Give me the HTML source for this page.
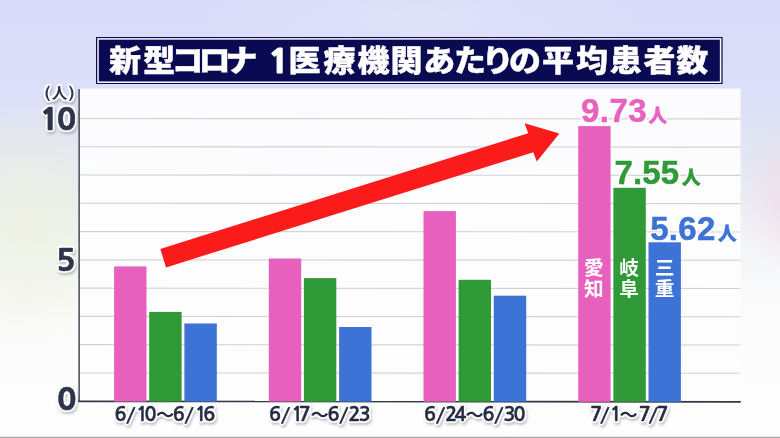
<!DOCTYPE html>
<html lang="ja">
<head>
<meta charset="utf-8">
<title>新型コロナ 1医療機関あたりの平均患者数</title>
<style>
html,body{margin:0;padding:0;width:780px;height:438px;overflow:hidden;background:#fdfdfb;}
svg{display:block;position:absolute;left:0;top:0;}
text{font-family:"Liberation Sans","Noto Sans CJK JP",sans-serif;}
.ttl text{font-family:"Noto Sans CJK JP","Liberation Sans",sans-serif;font-weight:900;font-size:32px;fill:#fff;stroke:#fff;stroke-width:0.4px;stroke-linejoin:round;}
.ttl .one{font-family:"NanumGothic","Liberation Sans",sans-serif;font-weight:800;font-size:36px;stroke-width:1.1px;stroke-linejoin:miter;}
.ax{font-family:"NanumGothic","Liberation Sans",sans-serif;font-weight:800;font-size:29.5px;fill:#2e3449;stroke:#2e3449;stroke-width:0.5px;}
.unit{font-family:"Noto Sans CJK JP","Liberation Sans",sans-serif;font-weight:700;font-size:15.5px;fill:#2e3449;text-anchor:middle;}
.par{font-family:"NanumGothic","Liberation Sans",sans-serif;font-weight:800;font-size:15.5px;}
.xl{font-family:"NanumGothic","Liberation Sans","Noto Sans CJK JP",sans-serif;font-size:19px;font-weight:700;fill:#262c42;stroke:#262c42;stroke-width:0.4px;}
.wv{font-family:"Noto Sans CJK JP",sans-serif;font-weight:700;font-size:17.5px;stroke:none;}
.sl{font-size:20px;font-weight:400;stroke-width:0.55px;}
.val{font-weight:700;font-size:33px;}
.nin{font-family:"Noto Sans CJK JP","Liberation Sans",sans-serif;font-weight:900;font-size:18.7px;letter-spacing:0;}
.bl{font-family:"Noto Sans CJK JP","Liberation Sans",sans-serif;font-weight:700;font-size:19.7px;fill:#fff;text-anchor:middle;}
</style>
</head>
<body>
<svg width="780" height="438" viewBox="0 0 780 438">
<defs>
  <linearGradient id="bgv" x1="0" y1="0" x2="0" y2="1">
    <stop offset="0" stop-color="#d8dbf8"/>
    <stop offset="0.2" stop-color="#dcdff8"/>
    <stop offset="0.32" stop-color="#e1e4f3"/>
    <stop offset="0.45" stop-color="#eaecf2"/>
    <stop offset="0.58" stop-color="#f5f6f8"/>
    <stop offset="0.72" stop-color="#fbfbfb"/>
    <stop offset="1" stop-color="#fefefe"/>
  </linearGradient>
  <radialGradient id="bgg" gradientUnits="userSpaceOnUse" cx="25" cy="225" r="125" gradientTransform="translate(25 225) scale(0.9 1) translate(-25 -225)">
    <stop offset="0" stop-color="#edf1de" stop-opacity="0.8"/>
    <stop offset="0.5" stop-color="#edf1de" stop-opacity="0.45"/>
    <stop offset="1" stop-color="#edf1de" stop-opacity="0"/>
  </radialGradient>
  <radialGradient id="bgp" gradientUnits="userSpaceOnUse" cx="800" cy="200" r="75" gradientTransform="translate(800 200) scale(0.8 1) translate(-800 -200)">
    <stop offset="0" stop-color="#f5d8e8" stop-opacity="0.8"/>
    <stop offset="0.5" stop-color="#f5d8e8" stop-opacity="0.38"/>
    <stop offset="1" stop-color="#f5d8e8" stop-opacity="0"/>
  </radialGradient>
  <radialGradient id="bgh" gradientUnits="userSpaceOnUse" cx="420" cy="15" r="230" gradientTransform="translate(420 15) scale(1 0.3) translate(-420 -15)">
    <stop offset="0" stop-color="#ffffff" stop-opacity="0.18"/>
    <stop offset="1" stop-color="#ffffff" stop-opacity="0"/>
  </radialGradient>
  <filter id="ol" x="-15%" y="-25%" width="130%" height="160%" color-interpolation-filters="sRGB">
    <feMorphology in="SourceAlpha" operator="dilate" radius="1" result="d"/>
    <feGaussianBlur in="d" stdDeviation="0.8" result="db"/>
    <feComponentTransfer in="db" result="dt"><feFuncA type="linear" slope="2.6" intercept="-0.1"/></feComponentTransfer>
    <feFlood flood-color="#ffffff" result="w"/>
    <feComposite in="w" in2="dt" operator="in" result="white"/>
    <feGaussianBlur in="d" stdDeviation="1.8" result="sb"/>
    <feOffset in="sb" dx="0.8" dy="1.6" result="so"/>
    <feFlood flood-color="#30323c" flood-opacity="0.45" result="sc"/>
    <feComposite in="sc" in2="so" operator="in" result="shadow"/>
    <feMerge><feMergeNode in="shadow"/><feMergeNode in="white"/><feMergeNode in="SourceGraphic"/></feMerge>
  </filter>
  <filter id="ol2" x="-10%" y="-25%" width="120%" height="150%" color-interpolation-filters="sRGB">
    <feMorphology in="SourceAlpha" operator="dilate" radius="1" result="d"/>
    <feGaussianBlur in="d" stdDeviation="0.7" result="db"/>
    <feComponentTransfer in="db" result="dt"><feFuncA type="linear" slope="2" intercept="-0.1"/></feComponentTransfer>
    <feFlood flood-color="#ffffff" result="w"/>
    <feComposite in="w" in2="dt" operator="in" result="white"/>
    <feMerge><feMergeNode in="white"/><feMergeNode in="SourceGraphic"/></feMerge>
  </filter>
</defs>
<!-- background -->
<rect x="0" y="0" width="780" height="438" fill="url(#bgv)"/>
<rect x="0" y="0" width="780" height="438" fill="url(#bgg)"/>
<rect x="0" y="0" width="780" height="438" fill="url(#bgp)"/>
<rect x="0" y="0" width="780" height="120" fill="url(#bgh)"/>
<rect x="0" y="436.4" width="780" height="1.6" fill="#a4a4a4" fill-opacity="0.35"/>
<rect x="0" y="437" width="780" height="1" fill="#a8a8a8"/>

<!-- chart panel -->
<rect x="79" y="88.6" width="661.6" height="313" fill="#fdfdfe" fill-opacity="0.96"/>
<g stroke="#d1d1d4" stroke-width="1.1">
  <line x1="79" x2="740.5" y1="372.93" y2="373.28"/>
  <line x1="79" x2="740.5" y1="344.66" y2="345.01"/>
  <line x1="79" x2="740.5" y1="316.39" y2="316.74"/>
  <line x1="79" x2="740.5" y1="288.12" y2="288.47"/>
  <line x1="79" x2="740.5" y1="259.85" y2="260.20"/>
  <line x1="79" x2="740.5" y1="231.58" y2="231.93"/>
  <line x1="79" x2="740.5" y1="203.31" y2="203.66"/>
  <line x1="79" x2="740.5" y1="175.04" y2="175.39"/>
  <line x1="79" x2="740.5" y1="146.77" y2="147.12"/>
  <line x1="79" x2="740.5" y1="118.50" y2="118.85"/>
</g>

<!-- axes -->
<rect x="78.3" y="89" width="1.7" height="313" fill="#5a5e68"/>
<polygon points="78.3,400.5 740.8,401 740.8,402.7 78.3,402.2" fill="#343844"/>

<!-- bars -->
<g id="bars">
  <rect x="114.1" y="266.4" width="32.4" height="135.2" fill="#e760bd"/>
  <rect x="149.2" y="311.9" width="32.4" height="89.7" fill="#2f9a37"/>
  <rect x="184.4" y="323.5" width="32.4" height="78.1" fill="#3d73d6"/>
  <rect x="268.8" y="258.5" width="32.4" height="143.1" fill="#e760bd"/>
  <rect x="303.9" y="278.1" width="32.4" height="123.6" fill="#2f9a37"/>
  <rect x="339.1" y="327.0" width="32.4" height="74.7" fill="#3d73d6"/>
  <rect x="423.5" y="211.1" width="32.4" height="190.6" fill="#e760bd"/>
  <rect x="458.6" y="279.8" width="32.4" height="121.9" fill="#2f9a37"/>
  <rect x="493.8" y="295.7" width="32.4" height="106.0" fill="#3d73d6"/>
  <rect x="578.2" y="126.1" width="32.4" height="275.7" fill="#e760bd"/>
  <rect x="613.4" y="187.8" width="32.4" height="214.0" fill="#2f9a37"/>
  <rect x="648.5" y="242.3" width="32.4" height="159.5" fill="#3d73d6"/>
</g>

<!-- arrow -->
<polygon points="160.3,248.9 528.2,133.2 524.6,123.3 559.4,133.6 536.8,161.6 533.3,152.3 166,267.4" fill="#fb1b1b"/>

<!-- title banner -->
<rect x="96" y="37" width="626.6" height="47" fill="#0a0a52"/>
<rect x="98" y="38.9" width="622.6" height="43.3" fill="none" stroke="#fff" stroke-width="1.5"/>
<g class="ttl" transform="translate(0 4.85) scale(1 0.92)">
<text y="72" x="109 143.2 171.6 198.4 225.4 258 268.1 288.6 323.6 357.5 390.5 423.3 454.1 481.8 509.1 541.9 576.1 609.8 643.4 676.3">新型コロナ <tspan class="one" dy="2.3">1</tspan><tspan dy="-2.3">医</tspan>療機関あたりの平均患者数</text>
</g>

<!-- y axis labels -->
<g filter="url(#ol)">
<text class="unit" y="99.1" x="47.3 59.6 71.5"><tspan class="par" dy="-0.6">(</tspan><tspan dy="0.6">人</tspan><tspan class="par" dy="-0.6">)</tspan></text>
<text class="ax" transform="translate(76 130.1) scale(1.09 1)" x="-33.2 -18.0" y="0">10</text>
<text class="ax" transform="translate(76 270.6) scale(1.09 1)" x="-18.4" y="0">5</text>
<text class="ax" transform="translate(76 410.3) scale(1.09 1)" x="-17.7" y="0">0</text>
</g>

<!-- x axis labels -->
<g filter="url(#ol)">
<text class="xl" transform="scale(1.04 1)" y="421.4" x="110.0 121.4 130.9 138.9 149.9 166.1 177.4 187.2 195.4">6<tspan class="sl" dy="0.6" rotate="4">/</tspan><tspan dy="-0.6">1</tspan>0<tspan class="wv">〜</tspan>6<tspan class="sl" dy="0.6" rotate="4">/</tspan><tspan dy="-0.6">1</tspan>6</text>
<text class="xl" transform="scale(1.04 1)" y="421.4" x="258.7 270.2 280.0 287.2 298.6 315.0 326.2 335.2 344.9">6<tspan class="sl" dy="0.6" rotate="4">/</tspan><tspan dy="-0.6">1</tspan>7<tspan class="wv">〜</tspan>6<tspan class="sl" dy="0.6" rotate="4">/</tspan><tspan dy="-0.6">2</tspan>3</text>
<text class="xl" transform="scale(1.04 1)" y="421.4" x="407.8 419.2 428.1 437.0 447.6 464.0 475.2 484.2 493.7">6<tspan class="sl" dy="0.6" rotate="4">/</tspan><tspan dy="-0.6">2</tspan>4<tspan class="wv">〜</tspan>6<tspan class="sl" dy="0.6" rotate="4">/</tspan><tspan dy="-0.6">3</tspan>0</text>
<text class="xl" transform="scale(1.04 1)" y="421.4" x="567.6 577.1 586.3 595.6 614.2 623.7 631.3">7<tspan class="sl" dy="0.6" rotate="4">/</tspan><tspan dy="-0.6">1</tspan><tspan class="wv">〜</tspan>7<tspan class="sl" dy="0.6" rotate="4">/</tspan><tspan dy="-0.6">7</tspan></text>
</g>

<!-- value labels -->
<g filter="url(#ol2)" stroke-width="0.5" stroke-linejoin="round">
<text class="val" y="121.5" x="581" fill="#e663bf" stroke="#e663bf" style="letter-spacing:0.5px">9.73<tspan class="nin" x="648.4" y="122.1">人</tspan></text>
<text class="val" y="183.5" x="614.4" fill="#2f9a37" stroke="#2f9a37" style="letter-spacing:0.15px">7.55<tspan class="nin" x="681.9" y="184.2">人</tspan></text>
<text class="val" y="239.7" x="650.2" fill="#3d73d6" stroke="#3d73d6" style="letter-spacing:0.33px">5.62<tspan class="nin" x="717.9" y="239.7">人</tspan></text>
</g>

<!-- bar labels -->
<text class="bl" x="593.8" y="275.1">愛<tspan x="593.8" y="295.8">知</tspan></text>
<text class="bl" x="629.1" y="275.1">岐<tspan x="629.1" y="295.9">阜</tspan></text>
<text class="bl" x="664.7" y="274.8">三<tspan x="664.7" y="295.9">重</tspan></text>
</svg>
</body>
</html>
